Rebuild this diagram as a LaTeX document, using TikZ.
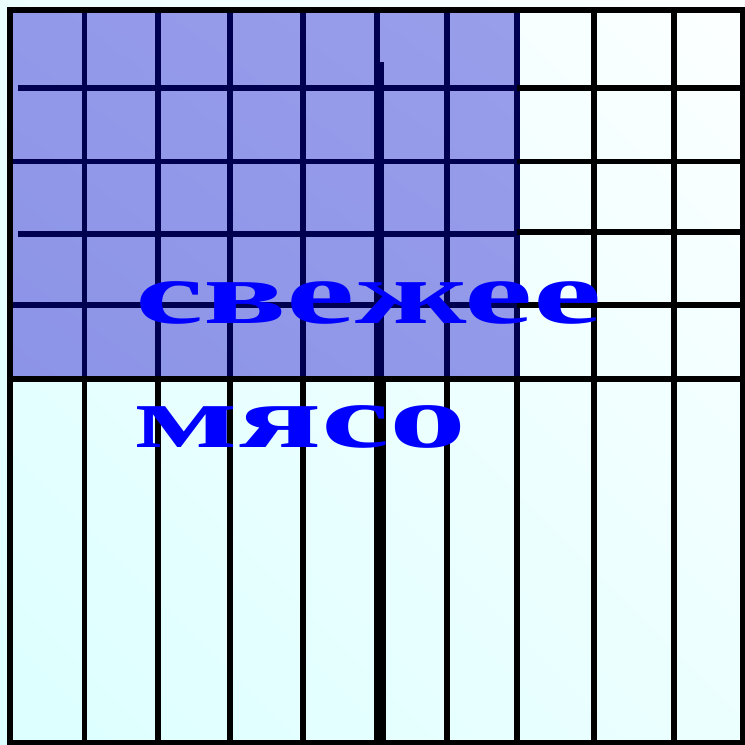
\documentclass[tikz,border=0pt]{standalone}
\usepackage{fontspec}
\setmainfont{Liberation Serif}
\usetikzlibrary{shadings}
\definecolor{palecyan}{RGB}{220,255,255}
\definecolor{palewhite}{RGB}{252,255,255}
\definecolor{meatblue}{RGB}{140,148,232}
\definecolor{meatlight}{RGB}{153,158,234}
\definecolor{gridnavy}{RGB}{0,0,80}
\begin{document}
\begin{tikzpicture}[x=1pt,y=-1pt]
				\tikzset{
					grid line/.style={line width=5.5pt,color=black},
					navy line/.style={line width=5.5pt,color=gridnavy},
					word/.style={inner sep=0pt,anchor=base west,text=blue,xscale=1.73,
						font=\fontsize{89}{89}\selectfont\bfseries}
				}
				\useasboundingbox (0,0) rectangle (745,745);
				\path
				(10,10) coordinate (TL)
				(743,743) coordinate (BR)
				(517,379) coordinate (Bm);
				\shade[lower left=palecyan,upper right=palewhite,lower right=palecyan!50!palewhite,upper left=palecyan!50!palewhite]
					(0,0) rectangle (745,745);
				\shade[lower left=meatblue,upper right=meatlight,lower right=meatblue!50!meatlight,upper left=meatblue!50!meatlight]
					(TL) rectangle (Bm);
				% blue block
				\foreach \x in {84.5,158,230,303,377,447,517}{
					\draw[navy line] (\x,10) -- (\x,379);
				}
				\foreach \y/\s in {88/18,161.5/10,234/18,305/10}{
					\draw[navy line] (\s,\y) -- (517,\y);
				}
				\draw[navy line] (381.5,62) -- (381.5,379);
				% rest of the grid
				\foreach \x in {84.5,158,230,303,377,447,517}{
					\draw[grid line] (\x,379) -- (\x,743);
				}
				\foreach \x in {594,674}{
					\draw[grid line] (\x,10) -- (\x,743);
				}
				\foreach \y in {88,161.5,232,305}{
					\draw[grid line] (517,\y) -- (743,\y);
				}
				\draw[grid line] (10,379) -- (743,379);
				\draw[line width=10pt] (380.5,379) -- (380.5,743);
				\draw[grid line] (TL) rectangle (BR);
				\node[word] (fresh) at (135,323) {свежее};
				\node[word] (meat) at (133,447) {мясо};
\end{tikzpicture}
\end{document}
